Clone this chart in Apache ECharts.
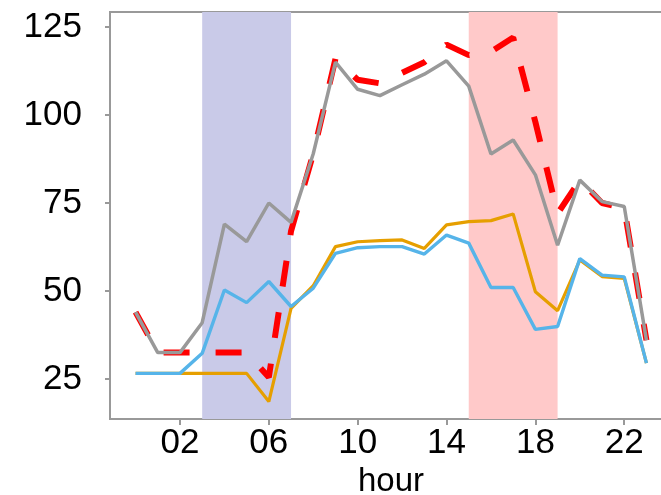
<!DOCTYPE html>
<html>
<head>
<meta charset="utf-8">
<script src="https://cdn.jsdelivr.net/npm/echarts@6/dist/echarts.min.js"></script>
<style>
html,body{margin:0;padding:0;background:#fff;}
#c{width:661px;height:495px;}
</style>
</head>
<body>
<div id="c"></div>
<script>
const hours = [0,1,2,3,4,5,6,7,8,9,10,11,12,13,14,15,16,17,18,19,20,21,22,23];
const redDashed = [44,32.5,32.5,32.5,32.5,32.5,25.5,67,89,116,110,109,112,115,120,117,118,122,98,72,81.5,75,73.5,36];
const grayLine = [44,32.5,32.5,41,69,64,75,69.5,89,115,107.3,105.5,108.6,111.6,115.4,108.2,88.9,92.9,83,63,81.5,75.4,74,36];
const orangeLine = [26.6,26.6,26.6,26.6,26.6,26.6,18.6,45.1,51.5,62.6,64,64.3,64.5,62.1,68.8,69.7,70,71.9,49.8,44.4,58.8,54.1,53.6,29.5];
const blueLine = [26.6,26.6,26.6,32.3,50.3,46.7,52.7,45.6,50.8,60.7,62.3,62.6,62.6,60.5,65.9,63.6,51,51,39.1,39.9,59.2,54.5,54,29.5];
const xTickValues = [2,6,10,14,18,22];
const yTickValues = [25,50,75,100,125];
const blueBand = [3,7];
const pinkBand = [15,19];

const pairs = arr => hours.map((h,i)=>[h,arr[i]]);
const font = 'Liberation Sans, Arial, sans-serif';

const chart = echarts.init(document.getElementById('c'));
chart.setOption({
  animation:false,
  backgroundColor:'#fff',
  grid:{left:110, top:12, bottom:76, right:-11, containLabel:false, outerBoundsMode:'none',
        show:true, borderColor:'#999', borderWidth:2, backgroundColor:'transparent'},
  xAxis:{
    type:'value', min:-1.15, max:24.15,
    name:'hour', nameLocation:'middle', nameGap:44,
    nameTextStyle:{fontFamily:font, fontSize:33, color:'#000'},
    axisLine:{show:true, onZero:false, lineStyle:{color:'#999', width:2}},
    axisTick:{show:true, length:6, customValues:xTickValues, lineStyle:{color:'#999', width:2}},
    axisLabel:{customValues:xTickValues, formatter:v=>String(v).padStart(2,'0'), fontFamily:font, fontSize:35, color:'#000', margin:7},
    splitLine:{show:false}
  },
  yAxis:{
    type:'value', min:13.64, max:129.26,
    axisLine:{show:true, onZero:false, lineStyle:{color:'#999', width:2}},
    axisTick:{show:true, length:5, customValues:yTickValues, lineStyle:{color:'#999', width:2}},
    axisLabel:{customValues:yTickValues, fontFamily:font, fontSize:35, color:'#000', margin:28},
    splitLine:{show:false}
  },
  series:[
    {type:'line', data:pairs(redDashed), symbol:'none', lineStyle:{color:'#ff0000', width:6, type:[26,26]},
     markArea:{silent:true, data:[
       [{xAxis:blueBand[0], itemStyle:{color:'#c9cae8'}},{xAxis:blueBand[1]}],
       [{xAxis:pinkBand[0], itemStyle:{color:'#ffc9c9'}},{xAxis:pinkBand[1]}]
     ]}},
    {type:'line', data:pairs(grayLine), symbol:'none', lineStyle:{color:'#999999', width:3.5}},
    {type:'line', data:pairs(orangeLine), symbol:'none', lineStyle:{color:'#E69F00', width:3.2}},
    {type:'line', data:pairs(blueLine), symbol:'none', lineStyle:{color:'#56B4E9', width:3.4}}
  ]
});
</script>
</body>
</html>
